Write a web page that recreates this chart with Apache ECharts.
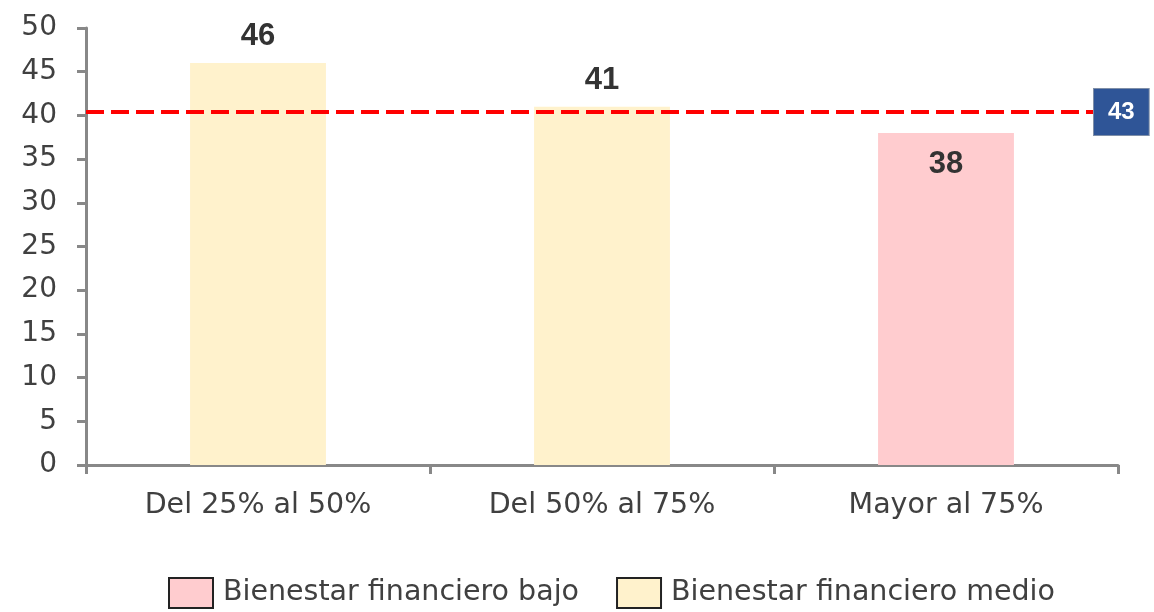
<!DOCTYPE html>
<html>
<head>
<meta charset="utf-8">
<script src="https://cdn.jsdelivr.net/npm/echarts@6/dist/echarts.min.js"></script>
<style>
  html, body { margin: 0; padding: 0; background: #fff; }
  #chart { width: 1154px; height: 612px; }
</style>
</head>
<body>
<div id="chart"></div>
<script>
const categories = ['Del 25% al 50%', 'Del 50% al 75%', 'Mayor al 75%']
const seriesNames = ['Bienestar financiero bajo', 'Bienestar financiero medio']
const bajoValues = [null, null, 38]
const medioValues = [46, 41, null]
// la linea se dibuja cerca de 40.4 pero la etiqueta dice 43
const avgLineValue = 40.4
const avgLabel = '43'
const yTicks = { min: 0, max: 50, interval: 5 }

const chart = echarts.init(document.getElementById('chart'))
const font = '"DejaVu Sans", sans-serif'
const numFont = '"Liberation Sans", Arial, sans-serif'

const option = {
  animation: false,
  grid: { left: 86, right: 36, top: 28, bottom: 147 },
  legend: {
    bottom: -2,
    left: 163,
    icon: 'rect',
    itemWidth: 44,
    itemHeight: 30,
    itemGap: 37,
    textStyle: { fontFamily: font, fontSize: 28.5, color: '#404040', padding: [0, 0, 0, 5] },
    data: seriesNames.map(n => ({ name: n, itemStyle: { borderColor: '#222', borderWidth: 2 } }))
  },
  xAxis: {
    type: 'category',
    data: categories,
    axisLine: { lineStyle: { color: '#888', width: 3 } },
    axisTick: { show: true, length: 9, lineStyle: { color: '#888', width: 3 } },
    axisLabel: { fontFamily: font, fontSize: 28.5, color: '#404040', margin: 26 }
  },
  yAxis: {
    type: 'value',
    min: yTicks.min,
    max: yTicks.max,
    interval: yTicks.interval,
    splitLine: { show: false },
    axisLine: { show: true, lineStyle: { color: '#888', width: 3 } },
    axisTick: { show: true, length: 9, lineStyle: { color: '#888', width: 3 } },
    axisLabel: { fontFamily: font, fontSize: 28, color: '#404040', margin: 29 }
  },
  series: [
    {
      name: seriesNames[0],
      type: 'bar',
      stack: 'a',
      barWidth: '39.5%',
      data: bajoValues,
      itemStyle: { color: '#FFCCCF' },
      label: {
        show: true, position: 'insideTop', distance: 16,
        fontFamily: numFont, fontSize: 31, fontWeight: 'bold', color: '#333'
      },
      markLine: {
        silent: true,
        symbol: 'none',
        lineStyle: { color: '#FF0000', width: 4, type: [18, 7] },
        label: {
          show: true,
          position: 'end',
          distance: -24,
          formatter: avgLabel,
          backgroundColor: '#2F5597',
          borderColor: '#7f8fa8',
          borderWidth: 1,
          color: '#fff',
          fontFamily: numFont,
          fontSize: 24,
          fontWeight: 'bold',
          padding: [12, 14, 10, 14]
        },
        data: [{ yAxis: avgLineValue }]
      }
    },
    {
      name: seriesNames[1],
      type: 'bar',
      stack: 'a',
      barWidth: '39.5%',
      data: medioValues,
      itemStyle: { color: '#FFF2CC' },
      label: {
        show: true, position: 'top', distance: 11,
        fontFamily: numFont, fontSize: 31, fontWeight: 'bold', color: '#333'
      }
    }
  ]
}

chart.setOption(option)
</script>
</body>
</html>
